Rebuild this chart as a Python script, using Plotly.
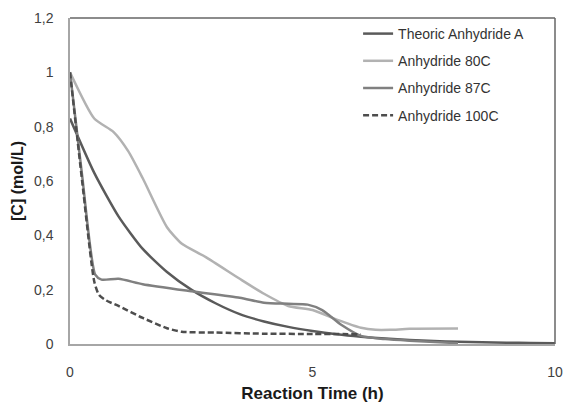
import plotly.graph_objects as go

# Theoretic Anhydride A
t_theo = [0, 0.5, 1, 1.5, 2, 2.5, 3, 3.5, 4, 4.5, 5, 5.5, 6, 6.5, 7, 7.5, 8, 8.5, 9, 9.5, 10]
c_theo = [0.83, 0.63, 0.47, 0.35, 0.265, 0.20, 0.15, 0.11, 0.083, 0.063, 0.048, 0.036, 0.027, 0.02, 0.015, 0.011, 0.008, 0.006, 0.005, 0.004, 0.003]

# Anhydride 80C
t_80 = [0, 0.5, 0.9, 1.2, 1.5, 2.0, 2.3, 2.8, 3.5, 4.0, 4.5, 5.0, 5.5, 6.0, 6.3, 6.6, 7.0, 8.0]
c_80 = [1.0, 0.83, 0.78, 0.71, 0.61, 0.43, 0.37, 0.32, 0.24, 0.185, 0.14, 0.125, 0.09, 0.06, 0.052, 0.052, 0.056, 0.057]

# Anhydride 87C
t_87 = [0, 0.25, 0.52, 0.65, 1.0, 1.5, 2.5, 3.5, 4.0, 4.5, 4.9, 5.2, 5.6, 6.0, 6.5, 7.0, 8.0]
c_87 = [1.0, 0.62, 0.255, 0.237, 0.24, 0.22, 0.194, 0.17, 0.152, 0.148, 0.145, 0.125, 0.07, 0.03, 0.018, 0.012, 0.003]

# Anhydride 100C
t_100 = [0, 0.25, 0.5, 0.6, 0.75, 1.0, 1.5, 2.0, 2.3, 3.0, 4.0, 5.0, 6.0]
c_100 = [1.0, 0.6, 0.23, 0.18, 0.16, 0.14, 0.096, 0.058, 0.045, 0.042, 0.038, 0.037, 0.036]

series = [
    ("Theoric Anhydride A", t_theo, c_theo, "#5a5a5a", "solid"),
    ("Anhydride 80C", t_80, c_80, "#b2b2b2", "solid"),
    ("Anhydride 87C", t_87, c_87, "#808080", "solid"),
    ("Anhydride 100C", t_100, c_100, "#4d4d4d", "6px,3px"),
]

fig = go.Figure()
for i, (name, t, c, col, dash) in enumerate(series):
    fig.add_trace(go.Scatter(
        x=t, y=c, name=name, mode="lines",
        line=dict(color=col, width=2.5, dash=dash, shape="spline", smoothing=0.6),
        legendgroup=f"g{i}",
    ))

font = "Liberation Sans, Arial, sans-serif"
fig.update_layout(
    width=564, height=403,
    margin=dict(l=70, r=9, t=18, b=59, autoexpand=False),
    paper_bgcolor="white", plot_bgcolor="white",
    separators=",.",
    font=dict(family=font, size=14, color="#404040"),
    showlegend=True,
    legend=dict(x=0.594, y=1.0, xanchor="left", yanchor="top",
                bgcolor="rgba(0,0,0,0)", borderwidth=0,
                font=dict(family=font, size=14, color="#333333"),
                tracegroupgap=6, itemwidth=30),
    xaxis=dict(range=[0, 10], tickvals=[0, 5, 10], showgrid=False, zeroline=False,
               showline=True, linecolor="#a6a6a6", linewidth=1.5, ticks="",
               ticklabelstandoff=14, automargin=False,
               title=dict(text="<b>Reaction Time (h)</b>", font=dict(family=font, size=17, color="#1a1a1a"), standoff=12)),
    yaxis=dict(range=[0, 1.2], tickvals=[0, 0.2, 0.4, 0.6, 0.8, 1.0, 1.2], showgrid=False, zeroline=False,
               showline=True, linecolor="#a6a6a6", linewidth=1.5, ticks="",
               ticklabelstandoff=12, automargin=False,
               title=dict(text="<b>[C] (mol/L)</b>", font=dict(family=font, size=16, color="#1a1a1a"), standoff=6)),
    shapes=[
        dict(type="line", xref="paper", yref="paper", x0=0, x1=1, y0=1, y1=1, line=dict(color="#666666", width=1.5)),
        dict(type="line", xref="paper", yref="paper", x0=1, x1=1, y0=0, y1=1, line=dict(color="#666666", width=1.5)),
    ],
)

fig.write_html("out.html", config={"displayModeBar": False},
               post_script="document.body.style.margin='0';document.body.style.overflow='hidden';")
